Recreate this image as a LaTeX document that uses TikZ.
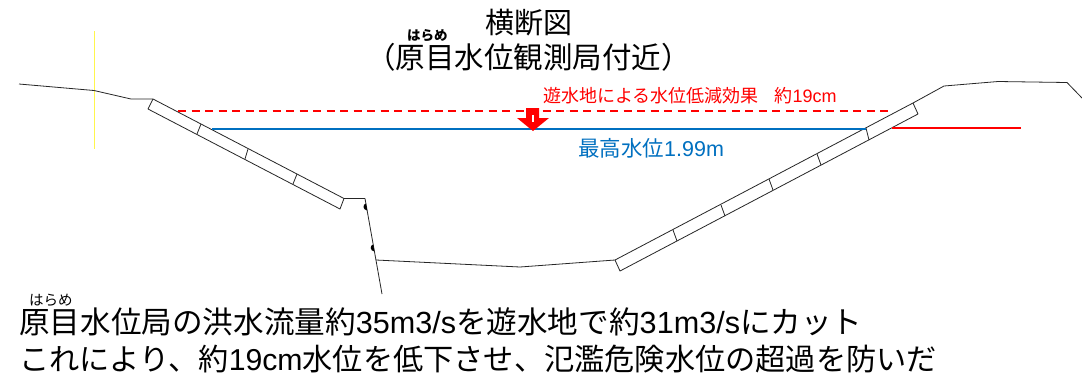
\documentclass[tikz,border=0pt]{standalone}
\usepackage{fontspec}
\setmainfont{Liberation Sans}
\newfontfamily\cjk{Noto Sans CJK JP}
\newcommand{\jp}[1]{{\cjk #1}}
\definecolor{waterblue}{HTML}{0070C0}
\tikzset{
  bank/.style={draw=black!85,line width=0.8pt,line join=round},
  txt/.style={inner sep=0pt,anchor=base west,text=black},
  big/.style={txt,font=\fontsize{30.6}{30.6}\selectfont},
  ruby/.style={txt,font=\fontsize{14.5}{14.5}\selectfont},
}
\begin{document}
\begin{tikzpicture}[x=1pt,y=-1pt]
\useasboundingbox[fill=white] (0,0) rectangle (1082,376);
% yellow marker
\draw[yellow!70!white,line width=0.5pt] (94,31) -- (94,149);
% banks
\draw[bank] (19,84) -- (94,90.5) -- (131,99) -- (153,99) -- (344,198.5) -- (365,198.5) -- (382,294);
\draw[bank] (153,99) -- (148,109) -- (340,209) -- (344,198.5);
\draw[bank] (201,124) -- (197,134) (248,149) -- (245,159) (297,174) -- (293,184);
\draw[bank] (376,260) -- (520,267) -- (615,260) -- (913,103) -- (944,86) -- (998,81.5) -- (1067,82.5) -- (1082,98);
\draw[bank] (615,260) -- (620,271) -- (918,114) -- (913,103);
\draw[bank] (673,230) -- (677,241) (721,205) -- (725,216) (769,179) -- (773,190) (817,154) -- (821,165) (866,128) -- (869,140);
\fill[black] (366,203.5) .. controls (362.5,204) and (362.5,210) .. (367.2,210.5) -- cycle;
\fill[black] (373.2,244.5) .. controls (369.7,245) and (369.7,251) .. (374.4,251.5) -- cycle;
% water levels
\draw[red,line width=1.4pt,dash pattern=on 8pt off 5.5pt] (178,111) -- (892,111);
\draw[waterblue,line width=1.8pt] (212,129) -- (866,129);
\draw[red,line width=1.8pt] (892,128) -- (1021,128);
% arrow
\fill[red] (526,108) -- (539,108) -- (539,118) -- (549,118) -- (533,131) -- (517,118) -- (526,118) -- cycle;
\fill[white] (532,115) rectangle (534,122);
% texts
\node[txt,font=\fontsize{29}{29}\selectfont] (t1) at (485,33) {\jp{横断図}};
\node[txt,font=\bfseries\fontsize{13.5}{13.5}\selectfont] (r1) at (407,40) {\jp{はらめ}};
\node[txt,font=\fontsize{29.5}{29.5}\selectfont] (t2) at (366,68) {\jp{（原目水位観測局付近）}};
\node[txt,text=red,font=\fontsize{18}{18}\selectfont] (t3) at (543,102) {\jp{遊水地による水位低減効果}\hspace{16pt}\jp{約}19cm};
\node[txt,text=waterblue,font=\fontsize{21.5}{21.5}\selectfont] (t4) at (578,156) {\jp{最高水位}1.99m};
\node[ruby] (r2) at (29,305) {\jp{はらめ}};
\node[big] (t5) at (19,333) {\jp{原目水位局の洪水流量約}35m3/s\jp{を遊水地で約}31m3/s\jp{にカット}};
\node[txt,font=\fontsize{30.2}{30.2}\selectfont] (t6) at (19,370.5) {\jp{これにより、約}19cm\jp{水位を低下させ、氾濫危険水位の超過を防いだ}};
\end{tikzpicture}
\end{document}
